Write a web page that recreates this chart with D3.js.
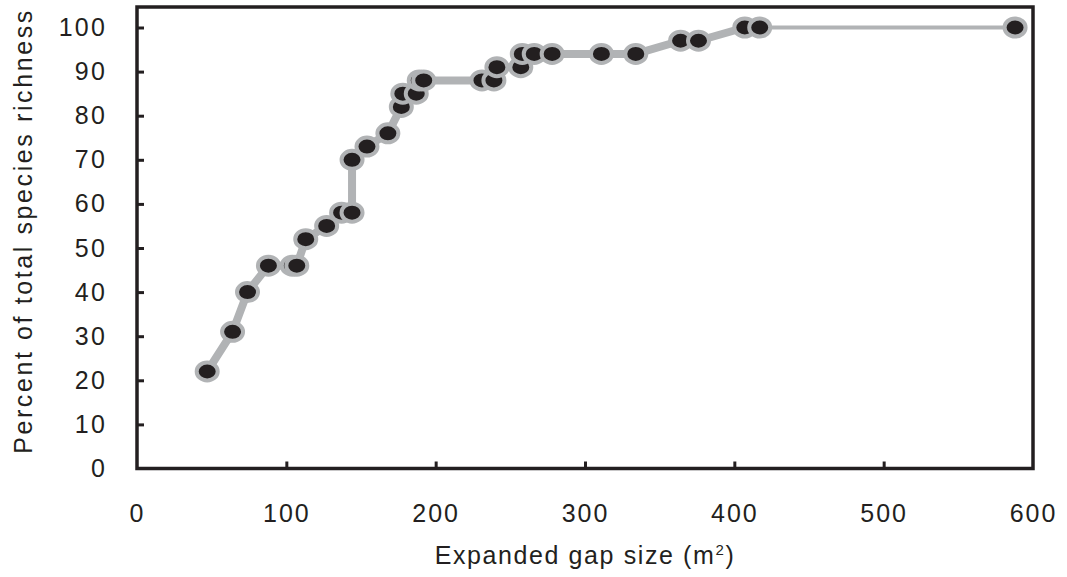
<!DOCTYPE html>
<html>
<head>
<meta charset="utf-8">
<script src="https://cdn.jsdelivr.net/npm/d3@7"></script>
<style>
  body { margin: 0; background: #fff; }
  text { font-family: "Liberation Sans", Arial, sans-serif; fill: #231f20; }
</style>
</head>
<body>
<svg id="chart" width="1067" height="577"></svg>
<script>
// Cumulative species richness against expanded gap size
const gapSize  = [47, 64, 74, 88, 104, 107, 113, 127, 137, 144, 144, 154, 168, 177, 178, 187, 189, 192,
                  231, 239, 241, 257, 258, 266, 278, 311, 334, 364, 376, 407, 417];
const richness = [22, 31, 40, 46, 46, 46, 52, 55, 58, 58, 70, 73, 76, 82, 85, 85, 88, 88,
                  88, 88, 91, 91, 94, 94, 94, 94, 94, 97, 97, 100, 100];
// Largest gap, joined to the curve by a thin connector
const tailGapSize  = [417, 588];
const tailRichness = [100, 100];

const xTickValues = [0, 100, 200, 300, 400, 500, 600];
const yTickValues = [0, 10, 20, 30, 40, 50, 60, 70, 80, 90, 100];

const INK = "#231f20";
const GREY = "#b1b3b5";

const plotLeft = 137, plotRight = 1033, plotBottom = 468.5, plotTop = 7;

const x = d3.scaleLinear().domain([0, 600]).range([plotLeft, plotRight]);
const y = d3.scaleLinear().domain([0, 100]).range([plotBottom, 27.5]);

const svg = d3.select("#chart");

// Frame
svg.append("rect")
  .attr("x", plotLeft).attr("y", plotTop)
  .attr("width", plotRight - plotLeft).attr("height", plotBottom - plotTop)
  .attr("fill", "none").attr("stroke", INK).attr("stroke-width", 3.5);

// Axes with inward ticks
const xAxis = d3.axisBottom(x).tickValues(xTickValues).tickSize(-7).tickPadding(36)
  .tickFormat(d3.format("d"));
const gx = svg.append("g").attr("transform", `translate(0,${plotBottom})`).call(xAxis);
gx.select(".domain").remove();
gx.selectAll(".tick line").attr("stroke", INK).attr("stroke-width", 3)
  .filter(d => d === 0 || d === 600).remove();
gx.selectAll(".tick text").attr("font-size", 25).style("letter-spacing", "2px")
  .attr("fill", INK).attr("font-family", "Liberation Sans, Arial, sans-serif");

const yAxis = d3.axisLeft(y).tickValues(yTickValues).tickSize(-7).tickPadding(30)
  .tickFormat(d3.format("d"));
const gy = svg.append("g").attr("transform", `translate(${plotLeft},0)`).call(yAxis);
gy.select(".domain").remove();
gy.selectAll(".tick line").attr("stroke", INK).attr("stroke-width", 3)
  .filter(d => d === 0).remove();
gy.selectAll(".tick text").attr("font-size", 25).style("letter-spacing", "2.2px")
  .attr("fill", INK).attr("font-family", "Liberation Sans, Arial, sans-serif");

// Axis titles
const xTitle = svg.append("text")
  .attr("x", 585).attr("y", 564)
  .attr("text-anchor", "middle")
  .attr("font-size", 25).style("letter-spacing", "1.6px");
xTitle.append("tspan").text("Expanded gap size (m");
xTitle.append("tspan").attr("dy", -9).attr("font-size", 15).text("2");
xTitle.append("tspan").attr("dy", 9).text(")");

svg.append("text")
  .attr("transform", "translate(32,231) rotate(-90)")
  .attr("text-anchor", "middle")
  .attr("font-size", 25).style("letter-spacing", "2.6px")
  .text("Percent of total species richness");

// Curve
const points = gapSize.map((g, i) => [g, richness[i]]);
const tail = tailGapSize.map((g, i) => [g, tailRichness[i]]);
const line = d3.line().x(d => x(d[0])).y(d => y(d[1]));

svg.append("path").datum(tail)
  .attr("d", line).attr("fill", "none")
  .attr("stroke", GREY).attr("stroke-width", 4);

svg.append("path").datum(points)
  .attr("d", line).attr("fill", "none")
  .attr("stroke", GREY).attr("stroke-width", 8)
  .attr("stroke-linejoin", "round").attr("stroke-linecap", "round");

// Markers
const markers = points.concat([tail[tail.length - 1]]);
svg.append("g").selectAll("ellipse").data(markers).join("ellipse")
  .attr("cx", d => x(d[0])).attr("cy", d => y(d[1]))
  .attr("rx", 10.5).attr("ry", 9)
  .attr("fill", INK).attr("stroke", GREY).attr("stroke-width", 4);
</script>
</body>
</html>
